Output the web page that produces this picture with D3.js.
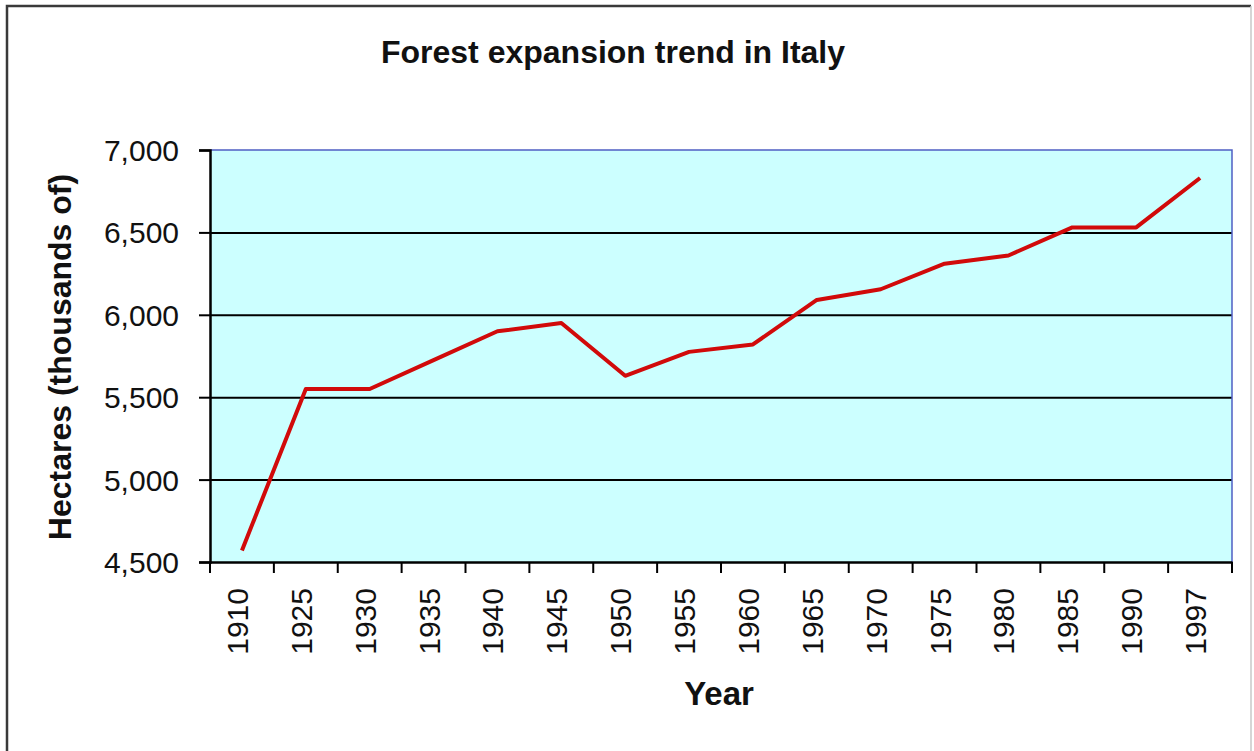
<!DOCTYPE html>
<html>
<head>
<meta charset="utf-8">
<title>Forest expansion trend in Italy</title>
<script src="https://cdn.jsdelivr.net/npm/d3@7/dist/d3.min.js"></script>
<style>
  html, body { margin: 0; padding: 0; background: #ffffff; }
  svg { display: block; }
  text { font-family: Arial, "Liberation Sans", sans-serif; fill: #111; }
</style>
</head>
<body>
<svg id="chart" width="1254" height="751"></svg>
<script>
// Forest area in Italy, thousands of hectares, by survey year
const years = ["1910", "1925", "1930", "1935", "1940", "1945", "1950", "1955",
               "1960", "1965", "1970", "1975", "1980", "1985", "1990", "1997"];
const hectares = [4570, 5550, 5550, 5725, 5900, 5950, 5630, 5775,
                  5820, 6090, 6155, 6310, 6360, 6530, 6530, 6830];
const yTicks = [4500, 5000, 5500, 6000, 6500, 7000];

const svg = d3.select("#chart");
const W = 1254, H = 751;
const plot = { left: 210, right: 1232, top: 150, bottom: 562 };

// outer chart frame
svg.append("path")
  .attr("d", `M7,${H + 5} L7,6 L1251,6`)
  .attr("fill", "none").attr("stroke", "#3a3a3a").attr("stroke-width", 2.5);
svg.append("line")
  .attr("x1", 1251).attr("x2", 1251).attr("y1", 6).attr("y2", H + 5)
  .attr("stroke", "#c8c8c8").attr("stroke-width", 1.5);

const x = d3.scaleBand().domain(years).range([plot.left, plot.right]).padding(0);
const y = d3.scaleLinear().domain([4500, 7000]).range([plot.bottom, plot.top]);

// plot background
svg.append("rect")
  .attr("x", plot.left).attr("y", plot.top)
  .attr("width", plot.right - plot.left).attr("height", plot.bottom - plot.top)
  .attr("fill", "#ccffff");

// horizontal gridlines
const grid = svg.append("g").attr("transform", `translate(${plot.left},0)`)
  .call(d3.axisLeft(y).tickValues(yTicks.slice(1, -1))
    .tickSize(-(plot.right - plot.left)).tickFormat(""));
grid.select(".domain").remove();
grid.selectAll(".tick line").attr("stroke", "#000").attr("stroke-width", 2);

// top and right plot borders
svg.append("path")
  .attr("d", `M${plot.left},${plot.top} L${plot.right},${plot.top} L${plot.right},${plot.bottom}`)
  .attr("fill", "none").attr("stroke", "#4f5fc4").attr("stroke-width", 1.5);

// y axis
const yAxis = svg.append("g").attr("transform", `translate(${plot.left},0)`)
  .call(d3.axisLeft(y).tickValues(yTicks).tickSize(11).tickPadding(20)
    .tickFormat(d3.format(",")));
yAxis.select(".domain").attr("stroke", "#000").attr("stroke-width", 2.5);
yAxis.selectAll(".tick line").attr("stroke", "#000").attr("stroke-width", 2);
yAxis.selectAll(".tick text")
  .attr("font-size", 30).attr("fill", "#1a1a1a").attr("dy", "0.35em");

// x axis: tick marks at category boundaries, labels centred in each band
const xAxis = svg.append("g").attr("transform", `translate(0,${plot.bottom})`)
  .call(d3.axisBottom(x).tickSize(0));
xAxis.select(".domain").attr("stroke", "#000").attr("stroke-width", 2.5);
xAxis.selectAll(".tick text")
  .attr("font-size", 30).attr("fill", "#1a1a1a")
  .attr("text-anchor", "end")
  .attr("transform", "rotate(-90)")
  .attr("x", -26).attr("y", 0).attr("dy", "0.2em");
const bounds = years.map(d => x(d)).concat([plot.right]);
xAxis.selectAll("line.bound").data(bounds).enter().append("line")
  .attr("class", "bound")
  .attr("x1", d => d).attr("x2", d => d)
  .attr("y1", 0).attr("y2", 11)
  .attr("stroke", "#000").attr("stroke-width", 2);

// data line
const line = d3.line()
  .x((d, i) => x(years[i]) + x.bandwidth() / 2)
  .y(d => y(d));
svg.append("path")
  .datum(hectares)
  .attr("d", line)
  .attr("fill", "none")
  .attr("stroke", "#d10a0a")
  .attr("stroke-width", 4)
  .attr("stroke-linejoin", "round");

// titles
svg.append("text")
  .attr("x", 613).attr("y", 63)
  .attr("text-anchor", "middle")
  .attr("font-size", 32).attr("font-weight", "bold")
  .text("Forest expansion trend in Italy");

svg.append("text")
  .attr("x", 719).attr("y", 705)
  .attr("text-anchor", "middle")
  .attr("font-size", 33).attr("font-weight", "bold")
  .text("Year");

svg.append("text")
  .attr("transform", "translate(71,357) rotate(-90)")
  .attr("text-anchor", "middle")
  .attr("font-size", 32).attr("font-weight", "bold")
  .text("Hectares (thousands of)");
</script>
</body>
</html>
